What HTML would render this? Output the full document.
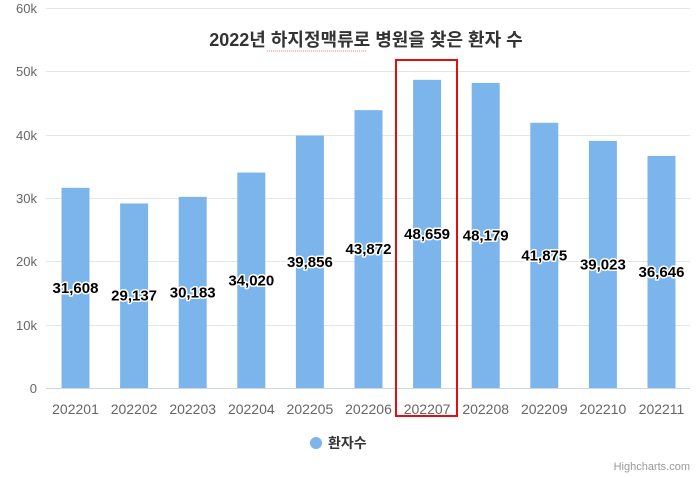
<!DOCTYPE html><html><head><style>body{margin:0;background:#fff}svg{display:block;font-family:"Liberation Sans","Noto Sans CJK KR",sans-serif}</style></head><body>
<svg width="700" height="477" xmlns="http://www.w3.org/2000/svg">
<rect width="700" height="477" fill="#fff"/>
<g stroke="#e6e6e6" stroke-width="1">
<line x1="46" x2="690" y1="8.5" y2="8.5"/><line x1="46" x2="690" y1="71.5" y2="71.5"/><line x1="46" x2="690" y1="135.5" y2="135.5"/><line x1="46" x2="690" y1="198.5" y2="198.5"/><line x1="46" x2="690" y1="261.5" y2="261.5"/><line x1="46" x2="690" y1="325.5" y2="325.5"/>
</g>
<g fill="#666" font-size="13" text-anchor="end">
<text x="37" y="13">60k</text><text x="37" y="76">50k</text><text x="37" y="140">40k</text><text x="37" y="203">30k</text><text x="37" y="266">20k</text><text x="37" y="330">10k</text><text x="37" y="393">0</text>
</g>
<text x="366" y="46" text-anchor="middle" font-size="18" font-weight="bold" fill="#333">2022년 하지정맥류로 병원을 찾은 환자 수</text>
<line x1="267" x2="366" y1="51" y2="51" stroke="#f08080" stroke-dasharray="1,1"/>
<g fill="#7cb5ec" id="bars"></g>
<line x1="46" x2="690" y1="388.5" y2="388.5" stroke="#ccd6eb"/>
<g id="lab" font-size="15" font-weight="bold" text-anchor="middle" fill="#000" stroke="#fff" stroke-width="3" paint-order="stroke" stroke-linejoin="round"></g>
<g id="xl" font-size="14" fill="#666" text-anchor="middle"></g>
<rect x="396" y="60" width="61" height="356" fill="none" stroke="#e01010" stroke-width="2"/>
<circle cx="316" cy="443" r="6" fill="#7cb5ec"/>
<text x="328" y="448" font-size="14" font-weight="bold" fill="#333">환자수</text>
<text x="690" y="470" text-anchor="end" font-size="11" fill="#999">Highcharts.com</text>
</svg>
<script>
var d=[31608,29137,30183,34020,39856,43872,48659,48179,41875,39023,36646];
var b=document.getElementById('bars'),l=document.getElementById('lab'),x=document.getElementById('xl'),ns='http://www.w3.org/2000/svg';
d.forEach(function(v,i){var c=75.5+58.6*i,h=v*0.006333,t=388-h;
var r=document.createElementNS(ns,'rect');r.setAttribute('x',c-14);r.setAttribute('y',t);r.setAttribute('width',28);r.setAttribute('height',h);b.appendChild(r);
var s=document.createElementNS(ns,'text');s.setAttribute('x',c);s.setAttribute('y',t+h/2+5);s.textContent=v.toLocaleString('en-US');l.appendChild(s);
var q=document.createElementNS(ns,'text');q.setAttribute('x',c);q.setAttribute('y',414);q.textContent='2022'+String(i+1).padStart(2,'0');x.appendChild(q);});
</script>
</body></html>
